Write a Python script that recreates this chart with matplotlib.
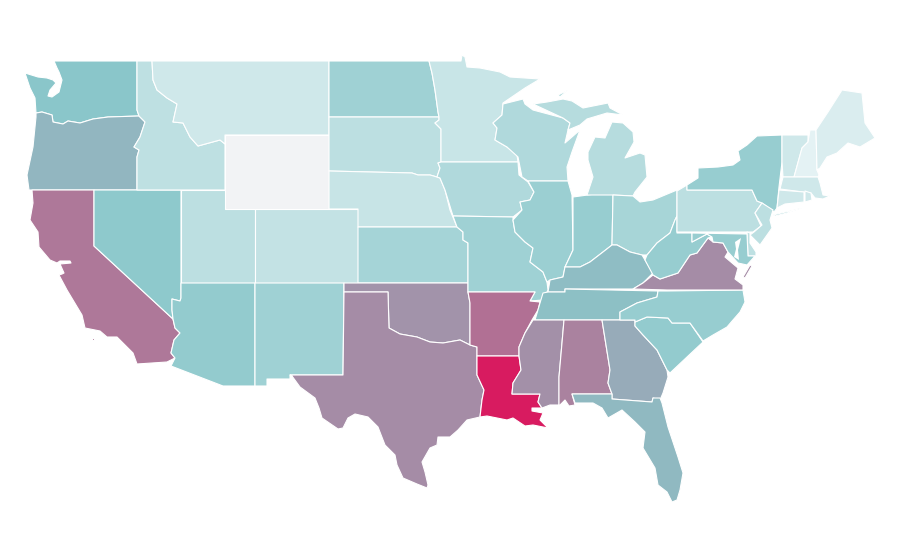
import matplotlib
matplotlib.use("Agg")
import matplotlib.pyplot as plt
from matplotlib.colors import LinearSegmentedColormap, Normalize
from matplotlib.patches import Polygon

states = ["WA","OR","CA","NV","ID","MT","WY","UT","CO","AZ","NM","ND","SD","NE","KS","OK","TX",
          "MN","IA","MO","AR","LA","WI","IL","IN","MI","OH","KY","TN","MS","AL","GA","FL","SC",
          "NC","VA","WV","PA","NY","VT","NH","ME","MA","CT","RI","NJ","DE","MD"]
values = [50,55,73,48,25,17,None,26,23,46,40,40,26,21,37,65,67,
          20,32,40,75,100,32,42,44,29,36,53,52,66,70,58,54,46,
          44,67,44,26,44,17,7,12,17,17,17,26,25,44]

outlines = {
"WA":[[(54,61),(137,61),(137,110),(139,116),(108,117),(93,119),(80,123),(68,121),(63,124),(53,122),(52,115),(42,112),(36,113),(35,98),(30,88),(25,73),(38,77),(47,78),(53,80),(56,83),(50,90),(48,96),(52,97),(59,92),(62,80),(59,72),(57,68)]],
"OR":[[(36,113),(42,112),(52,115),(53,122),(63,124),(68,121),(80,123),(93,119),(108,117),(139,116),(145,122),(140,137),(134,147),(139,150),(137,157),(137,190),(29,190),(27,175),(33,147),(36,117)]],
"CA":[[(32,190),(94,190),(94,246),(173,319),(175,328),(180,333),(174,340),(171,353),(175,358),(167,362),(137,364),(133,353),(117,337),(107,337),(100,331),(85,328),(82,315),(67,290),(59,275),(62,274),(64,273),(60,264),(71,263),(70,261),(60,261),(57,263),(50,260),(39,247),(38,232),(30,220),(33,203)],
      [(92,338),(94,338),(94,340),(92,340)]],
"NV":[[(94,190),(181,190),(181,298),(180,301),(172,299),(172,310),(173,319),(94,246)]],
"ID":[[(137,61),(152,61),(153,80),(157,90),(167,98),(177,104),(173,122),(183,123),(190,137),(198,146),(220,140),(225,144),(225,190),(137,190),(137,157),(139,150),(134,147),(140,137),(145,122),(139,116),(137,110)]],
"MT":[[(152,61),(329,61),(329,135),(225,135),(225,144),(220,140),(198,146),(190,137),(183,123),(173,122),(177,104),(167,98),(157,90),(153,80)]],
"WY":[[(225,135),(329,135),(329,209),(225,209)]],
"UT":[[(181,190),(225,190),(225,209),(255,209),(255,283),(181,283)]],
"CO":[[(255,209),(358,209),(358,283),(255,283)]],
"AZ":[[(181,283),(255,283),(255,386),(223,386),(171,366),(175,358),(171,353),(174,340),(180,333),(175,328),(173,319),(172,310),(172,299),(180,301),(181,298)]],
"NM":[[(255,283),(344,283),(343,375),(290,375),(290,379),(267,379),(267,386),(255,386)]],
"ND":[[(329,61),(429,61),(432,73),(435,90),(438,112),(439,117),(329,117)]],
"SD":[[(329,117),(439,117),(439,120),(435,123),(441,129),(441,162),(438,163),(440,168),(437,177),(430,175),(418,175),(412,173),(329,171)]],
"NE":[[(329,171),(412,173),(418,175),(430,175),(437,177),(440,178),(445,190),(450,210),(457,227),(358,227),(358,209),(329,209)]],
"KS":[[(358,227),(457,227),(463,232),(463,240),(468,243),(468,283),(358,283)]],
"OK":[[(344,283),(468,283),(468,292),(470,303),(470,345),(460,340),(443,343),(430,342),(417,337),(400,334),(389,328),(388,292),(344,292)]],
"TX":[[(344,292),(388,292),(389,328),(400,334),(417,337),(430,342),(443,343),(460,340),(470,345),(477,347),(477,375),(484,390),(482,400),(480,417),(467,420),(458,430),(450,437),(438,437),(437,445),(430,448),(422,462),(425,472),(428,485),(427,488),(417,484),(403,478),(397,465),(395,455),(385,445),(378,427),(368,417),(355,414),(348,418),(343,428),(338,429),(322,418),(319,408),(315,398),(300,387),(292,376),(290,375),(343,375)]],
"MN":[[(429,61),(461,61),(462,55),(465,57),(467,67),(480,68),(500,72),(510,77),(540,79),(525,88),(503,103),(502,115),(493,123),(497,128),(495,140),(507,147),(517,155),(518,162),(441,162),(441,129),(435,123),(439,120),(439,117),(438,112),(435,90),(432,73)]],
"IA":[[(441,162),(518,162),(519,175),(528,182),(534,192),(530,200),(520,202),(522,210),(513,217),(453,216),(445,190),(440,178),(437,177),(440,168),(438,163)]],
"MO":[[(453,216),(513,217),(513,220),(515,232),(525,242),(533,248),(530,262),(543,272),(547,282),(548,290),(543,300),(530,301),(535,292),(468,292),(468,243),(463,240),(463,232),(457,227)]],
"AR":[[(468,292),(535,292),(530,301),(540,302),(538,310),(532,320),(525,333),(519,347),(519,356),(477,356),(477,347),(470,345),(470,303)]],
"LA":[[(477,356),(519,356),(521,370),(513,383),(512,394),(540,394),(538,402),(542,408),(532,408),(532,411),(543,413),(540,420),(548,428),(533,425),(525,426),(513,418),(507,420),(487,416),(480,417),(482,400),(484,390),(477,375)]],
"WI":[[(503,104),(523,99),(525,104),(533,110),(563,118),(570,123),(568,130),(565,143),(580,130),(572,152),(567,167),(568,181),(528,181),(522,177),(518,157),(507,147),(495,140),(497,128),(493,123),(502,115)]],
"IL":[[(528,181),(568,181),(572,195),(573,250),(565,267),(563,277),(550,280),(547,282),(543,272),(530,262),(533,248),(525,242),(515,232),(513,220),(522,210),(520,202),(530,200),(534,192)]],
"IN":[[(573,197),(595,194),(613,194),(612,245),(603,252),(590,262),(580,267),(565,267),(573,250)]],
"MI":[[(587,195),(593,177),(588,160),(588,152),(595,137),(605,138),(612,122),(623,123),(633,132),(634,142),(625,158),(640,153),(645,155),(647,177),(635,192),(633,196),(613,195)],
      [(533,104),(547,102),(563,99),(572,101),(583,108),(608,103),(610,108),(623,115),(607,113),(587,119),(580,125),(568,130),(570,123),(563,118)],
      [(558,95),(568,90),(560,97)]],
"OH":[[(613,195),(633,196),(640,202),(653,200),(677,190),(677,216),(675,220),(670,233),(657,243),(647,255),(642,255),(630,252),(617,245),(612,245)]],
"KY":[[(548,292),(550,280),(563,277),(565,267),(580,267),(590,262),(603,252),(612,245),(617,245),(630,252),(642,255),(645,260),(653,273),(643,283),(633,289),(565,289),(565,292)]],
"TN":[[(565,289),(658,291),(657,297),(637,303),(620,312),(620,320),(535,320),(540,303),(543,293),(548,292),(565,292)]],
"MS":[[(533,320),(564,320),(562,343),(559,377),(559,405),(550,405),(542,408),(538,402),(540,394),(512,394),(513,383),(521,370),(519,356),(519,347),(525,333)]],
"AL":[[(564,320),(602,320),(610,370),(608,383),(612,394),(572,394),(575,405),(569,406),(565,400),(560,405),(559,405),(559,377),(562,343)]],
"GA":[[(602,320),(635,320),(635,326),(643,335),(657,350),(667,370),(668,377),(663,393),(660,400),(653,398),(652,402),(612,399),(612,394),(608,383),(610,370)]],
"FL":[[(572,394),(612,394),(612,399),(652,402),(653,398),(660,398),(662,403),(668,427),(678,457),(683,473),(680,490),(677,500),(672,502),(667,492),(658,485),(655,468),(643,448),(645,432),(635,422),(622,410),(608,418),(602,408),(593,403),(575,403)]],
"SC":[[(635,322),(647,317),(668,318),(672,323),(690,323),(703,342),(687,357),(670,373),(667,370),(657,350),(643,335),(635,326)]],
"NC":[[(620,320),(620,312),(637,303),(657,297),(658,291),(667,291),(743,290),(745,302),(740,312),(733,320),(727,327),(713,335),(703,341),(690,323),(672,323),(668,318),(647,317),(635,322),(635,320)]],
"VA":[[(633,289),(643,283),(653,275),(660,279),(678,273),(680,270),(690,255),(697,253),(708,238),(713,242),(723,243),(728,252),(725,257),(738,268),(735,279),(743,285),(743,290),(667,290)],
      [(750,265),(743,277),(745,278),(752,266)]],
"WV":[[(645,260),(647,255),(657,243),(670,233),(675,220),(677,216),(677,233),(692,233),(692,242),(707,234),(712,237),(708,238),(697,253),(690,255),(680,270),(678,273),(660,279),(653,275)]],
"PA":[[(677,191),(687,185),(687,190),(752,190),(757,201),(762,203),(755,213),(761,226),(753,232),(677,232)]],
"NY":[[(687,190),(687,185),(698,178),(698,168),(718,167),(733,165),(740,160),(738,151),(747,145),(757,136),(782,135),(782,162),(779,187),(777,208),(774,212),(762,203),(757,201),(752,190)],
      [(773,215),(802,208),(787,213),(775,216)]],
"VT":[[(782,135),(808,135),(808,142),(802,148),(794,177),(783,177),(782,162)]],
"NH":[[(810,130),(816,130),(817,170),(819,175),(818,177),(794,177),(802,148),(808,142)]],
"ME":[[(816,130),(828,112),(842,90),(862,93),(865,123),(875,138),(860,147),(848,143),(837,153),(827,157),(820,168),(817,170)]],
"MA":[[(783,177),(818,177),(820,183),(823,195),(830,196),(823,199),(815,198),(811,193),(780,189)]],
"CT":[[(779,190),(804,192),(804,202),(785,204),(777,208)]],
"RI":[[(805,191),(811,193),(812,200),(805,202)]],
"NJ":[[(762,203),(773,210),(770,220),(772,228),(760,245),(750,235),(754,232),(762,225),(755,213)]],
"DE":[[(747,232),(750,233),(750,243),(756,252),(756,256),(748,256)]],
"MD":[[(692,233),(747,234),(748,256),(755,256),(747,265),(738,263),(728,252),(723,243),(713,242),(712,237),(707,234),(692,242)]],
}
water = [[(735,242),(741,238),(738,250),(739,260),(734,257),(736,249)]]

cmap = LinearSegmentedColormap.from_list("rate", ["#f2f9fa", "#8ac7ca", "#d81b60"])
norm = Normalize(0, 100)
no_data = "#f2f3f5"

fig = plt.figure(figsize=(9, 5.6), dpi=100)
ax = fig.add_axes([0, 0, 1, 1])
ax.set_xlim(0, 900)
ax.set_ylim(560, 0)
ax.axis("off")

for state, value in zip(states, values):
    colour = no_data if value is None else cmap(norm(value))
    for ring in outlines[state]:
        ax.add_patch(Polygon(ring, closed=True, facecolor=colour, edgecolor="white", linewidth=0.8, joinstyle="round"))
for ring in water:
    ax.add_patch(Polygon(ring, closed=True, facecolor="white", edgecolor="none", zorder=3))

fig.savefig("out.png", dpi=100)
